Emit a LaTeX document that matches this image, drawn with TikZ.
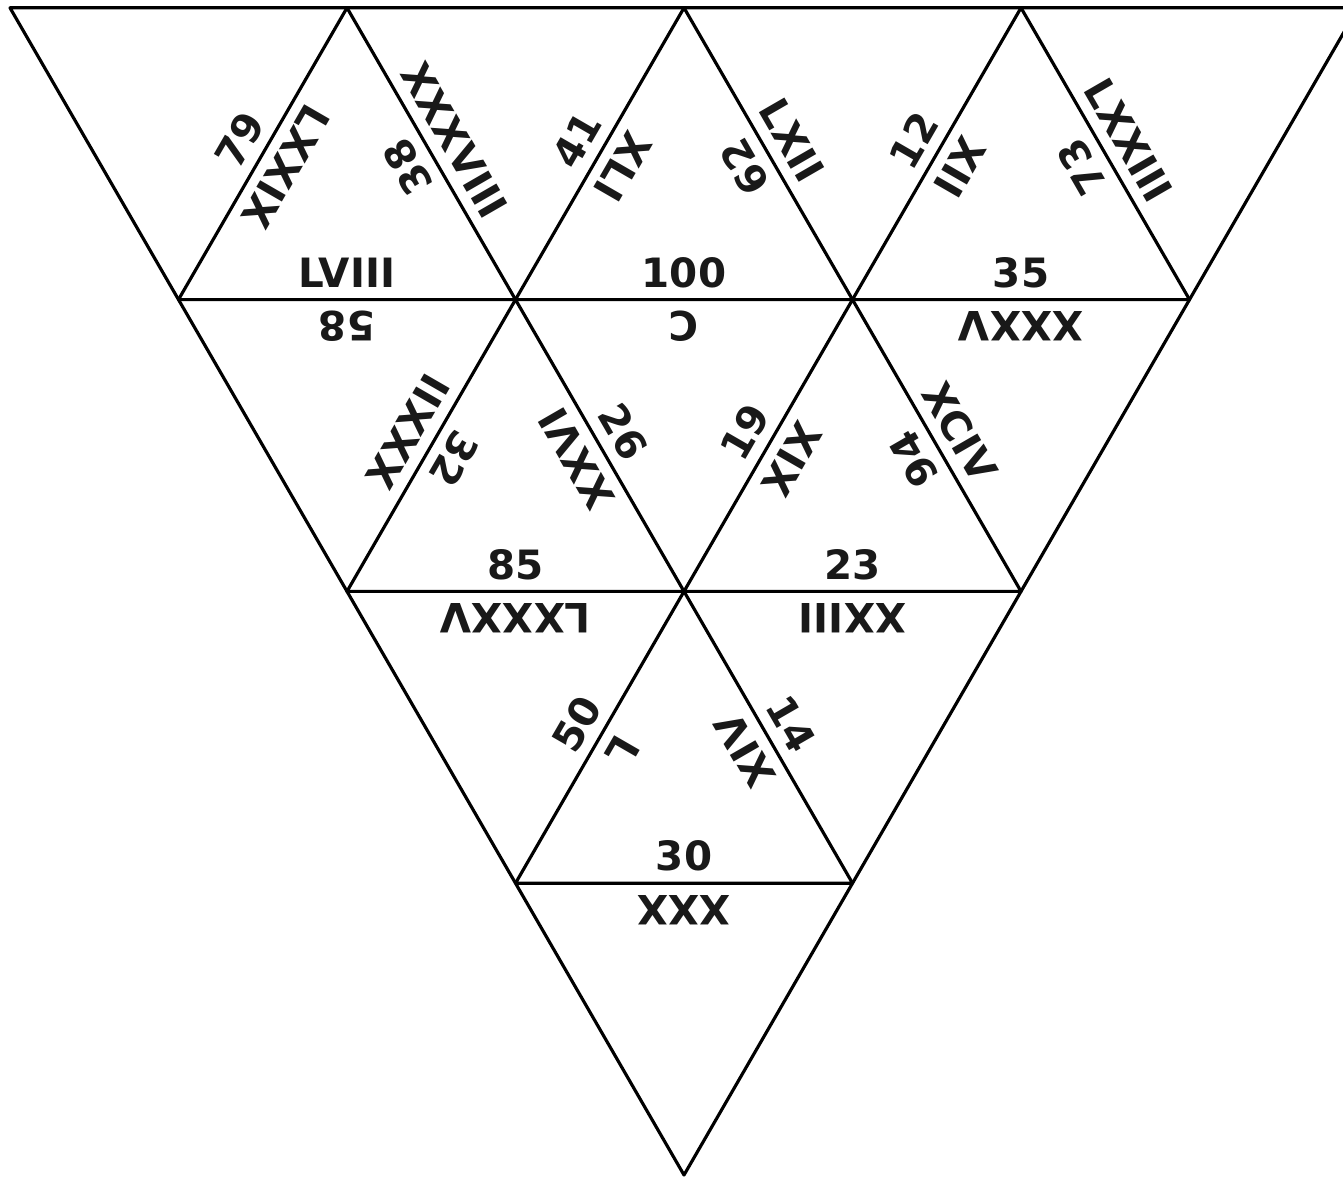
\documentclass[tikz,border=0pt]{standalone}
\usepackage{fontspec}
\setmainfont{DejaVu Sans}
\usetikzlibrary{calc}
\tikzset{
  tag/.style={font=\bfseries\fontsize{11.5}{12}\selectfont, text=black!90, inner sep=0pt},
}
\begin{document}
\begin{tikzpicture}[line cap=round, line join=round, line width=0.9pt]
  % Window bounds
  \useasboundingbox (0,0) rectangle (13.43,11.77);
  \clip (0,0) rectangle (13.43,11.77);
  \def\s{3.37} \def\h{2.918} \def\gap{0.27cm}

  % Grid points: row \j counted from the bottom tip, \i from the left
  \foreach \j in {0,...,4}
    \foreach \i in {0,...,\j}
      \coordinate (p\j\i) at ({6.84+(\i-\j/2)*\s}, {0.02+\j*\h});

  % Big outline
  \draw (p40) -- (p44) -- (p00) -- cycle;

  % Upward pieces
  \draw (p41) -- (p30) -- (p31) -- cycle;
  \draw (p42) -- (p31) -- (p32) -- cycle;
  \draw (p43) -- (p32) -- (p33) -- cycle;
  \draw (p31) -- (p20) -- (p21) -- cycle;
  \draw (p32) -- (p21) -- (p22) -- cycle;
  \draw (p21) -- (p10) -- (p11) -- cycle;

  % Piece 1 (top left)
  \node[tag, rotate=-120] (u1l)  at ($(p41)!0.5!(p30)!\gap!90:(p30)$)  {LXXIX};
  \node[tag, rotate=60]   (u1lo) at ($(p41)!0.5!(p30)!\gap!-90:(p30)$) {79};
  \node[tag, rotate=120]  (u1r)  at ($(p41)!0.5!(p31)!\gap!-90:(p31)$) {38};
  \node[tag, rotate=-60]  (u1ro) at ($(p41)!0.5!(p31)!\gap!90:(p31)$)  {XXXVIII};
  \node[tag]              (u1b)  at ($(p30)!0.5!(p31)!\gap!90:(p31)$)  {LVIII};
  \node[tag, rotate=180]  (u1bo) at ($(p30)!0.5!(p31)!\gap!-90:(p31)$) {58};

  % Piece 2 (top middle)
  \node[tag, rotate=-120] (u2l)  at ($(p42)!0.5!(p31)!\gap!90:(p31)$)  {XLI};
  \node[tag, rotate=60]   (u2lo) at ($(p42)!0.5!(p31)!\gap!-90:(p31)$) {41};
  \node[tag, rotate=120]  (u2r)  at ($(p42)!0.5!(p32)!\gap!-90:(p32)$) {62};
  \node[tag, rotate=-60]  (u2ro) at ($(p42)!0.5!(p32)!\gap!90:(p32)$)  {LXII};
  \node[tag]              (u2b)  at ($(p31)!0.5!(p32)!\gap!90:(p32)$)  {100};
  \node[tag, rotate=180]  (u2bo) at ($(p31)!0.5!(p32)!\gap!-90:(p32)$) {C};

  % Piece 3 (top right)
  \node[tag, rotate=-120] (u3l)  at ($(p43)!0.5!(p32)!\gap!90:(p32)$)  {XII};
  \node[tag, rotate=60]   (u3lo) at ($(p43)!0.5!(p32)!\gap!-90:(p32)$) {12};
  \node[tag, rotate=120]  (u3r)  at ($(p43)!0.5!(p33)!\gap!-90:(p33)$) {73};
  \node[tag, rotate=-60]  (u3ro) at ($(p43)!0.5!(p33)!\gap!90:(p33)$)  {LXXIII};
  \node[tag]              (u3b)  at ($(p32)!0.5!(p33)!\gap!90:(p33)$)  {35};
  \node[tag, rotate=180]  (u3bo) at ($(p32)!0.5!(p33)!\gap!-90:(p33)$) {XXXV};

  % Piece 4 (second row left)
  \node[tag, rotate=-120] (u4l)  at ($(p31)!0.5!(p20)!\gap!90:(p20)$)  {32};
  \node[tag, rotate=60]   (u4lo) at ($(p31)!0.5!(p20)!\gap!-90:(p20)$) {XXXII};
  \node[tag, rotate=120]  (u4r)  at ($(p31)!0.5!(p21)!\gap!-90:(p21)$) {XXVI};
  \node[tag, rotate=-60]  (u4ro) at ($(p31)!0.5!(p21)!\gap!90:(p21)$)  {26};
  \node[tag]              (u4b)  at ($(p20)!0.5!(p21)!\gap!90:(p21)$)  {85};
  \node[tag, rotate=180]  (u4bo) at ($(p20)!0.5!(p21)!\gap!-90:(p21)$) {LXXXV};

  % Piece 5 (second row right)
  \node[tag, rotate=-120] (u5l)  at ($(p32)!0.5!(p21)!\gap!90:(p21)$)  {XIX};
  \node[tag, rotate=60]   (u5lo) at ($(p32)!0.5!(p21)!\gap!-90:(p21)$) {19};
  \node[tag, rotate=120]  (u5r)  at ($(p32)!0.5!(p22)!\gap!-90:(p22)$) {94};
  \node[tag, rotate=-60]  (u5ro) at ($(p32)!0.5!(p22)!\gap!90:(p22)$)  {XCIV};
  \node[tag]              (u5b)  at ($(p21)!0.5!(p22)!\gap!90:(p22)$)  {23};
  \node[tag, rotate=180]  (u5bo) at ($(p21)!0.5!(p22)!\gap!-90:(p22)$) {XXIII};

  % Piece 6 (third row)
  \node[tag, rotate=-120] (u6l)  at ($(p21)!0.5!(p10)!\gap!90:(p10)$)  {L};
  \node[tag, rotate=60]   (u6lo) at ($(p21)!0.5!(p10)!\gap!-90:(p10)$) {50};
  \node[tag, rotate=120]  (u6r)  at ($(p21)!0.5!(p11)!\gap!-90:(p11)$) {XIV};
  \node[tag, rotate=-60]  (u6ro) at ($(p21)!0.5!(p11)!\gap!90:(p11)$)  {14};
  \node[tag]              (u6b)  at ($(p10)!0.5!(p11)!\gap!90:(p11)$)  {30};
  \node[tag, rotate=180]  (u6bo) at ($(p10)!0.5!(p11)!\gap!-90:(p11)$) {XXX};
\end{tikzpicture}
\end{document}
